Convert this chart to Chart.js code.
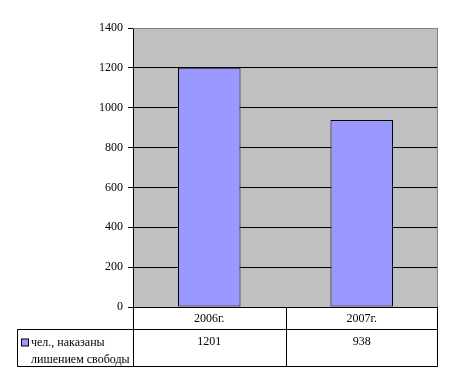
<!DOCTYPE html>
<html>
<head>
<meta charset="utf-8">
<script src="https://cdn.jsdelivr.net/npm/chart.js@4/dist/chart.umd.min.js"></script>
<style>
  html, body { margin: 0; padding: 0; background: #fff; }
  canvas { display: block; }
</style>
</head>
<body>
<canvas id="chart" width="454" height="383"></canvas>
<script>
// data
const categories = ['2006г.', '2007г.'];
const values = [1201, 938];
const seriesName = ['чел., наказаны', 'лишением свободы'];
const yTicks = [0, 200, 400, 600, 800, 1000, 1200, 1400];

const barColor = '#9999ff';
const serif = '"Liberation Serif", "Times New Roman", serif';

// gray plot background + gray top/right frame
const plotArea = {
  id: 'plotArea',
  beforeDraw(chart) {
    const { ctx, chartArea: a } = chart;
    ctx.save();
    ctx.fillStyle = '#c0c0c0';
    ctx.fillRect(a.left, a.top, a.right - a.left, a.bottom - a.top);
    ctx.restore();
  },
  afterDatasetsDraw(chart) {
    const { ctx, chartArea: a } = chart;
    ctx.save();
    ctx.strokeStyle = '#808080';
    ctx.lineWidth = 1;
    ctx.beginPath();
    ctx.moveTo(a.left, a.top + 0.5);
    ctx.lineTo(a.right - 0.5, a.top + 0.5);
    ctx.lineTo(a.right - 0.5, a.bottom);
    ctx.stroke();
    ctx.restore();
  }
};

// data table under the plot
const dataTable = {
  id: 'dataTable',
  afterDraw(chart) {
    const { ctx, chartArea: a } = chart;
    const x = chart.scales.x;
    const colW = (a.right - a.left) / categories.length;
    const top = Math.round(a.bottom) + 0.5;
    const row1 = top + 22;
    const row2 = top + 59;
    const left = 17.5;
    const right = Math.round(a.right) - 0.5;

    ctx.save();
    ctx.strokeStyle = '#000';
    ctx.lineWidth = 1;
    ctx.beginPath();
    // horizontal lines
    ctx.moveTo(a.left, top); ctx.lineTo(right, top);
    ctx.moveTo(left, row1); ctx.lineTo(right, row1);
    ctx.moveTo(left, row2); ctx.lineTo(right, row2);
    // verticals
    ctx.moveTo(left, row1); ctx.lineTo(left, row2);
    for (let i = 0; i <= categories.length; i++) {
      const vx = Math.round(a.left + i * colW) + (i === categories.length ? -0.5 : 0.5);
      ctx.moveTo(vx, top); ctx.lineTo(vx, row2);
    }
    ctx.stroke();

    ctx.fillStyle = '#000';
    ctx.font = '12px ' + serif;
    ctx.textAlign = 'center';
    ctx.textBaseline = 'middle';
    categories.forEach((c, i) => {
      const cx = x.getPixelForValue(i);
      ctx.fillText(c, cx, top + 11);
      ctx.fillText(String(values[i]), cx, row1 + 12);
    });

    // legend key
    ctx.fillStyle = barColor;
    ctx.fillRect(21.5, row1 + 9.5, 7, 7);
    ctx.strokeRect(21.5, row1 + 9.5, 7, 7);
    ctx.fillStyle = '#000';
    ctx.textAlign = 'left';
    ctx.fillText(seriesName[0], 31, row1 + 13);
    ctx.fillText(seriesName[1], 31, row1 + 30);
    ctx.restore();
  }
};

new Chart(document.getElementById('chart'), {
  type: 'bar',
  data: {
    labels: categories,
    datasets: [{
      label: seriesName.join(' '),
      data: values,
      backgroundColor: barColor,
      borderColor: '#000',
      borderWidth: 1,
      borderSkipped: false,
      categoryPercentage: 1,
      barPercentage: 0.41
    }]
  },
  options: {
    responsive: false,
    animation: false,
    layout: { padding: { top: 28, right: 16, bottom: 76, left: 0 } },
    plugins: { legend: { display: false }, tooltip: { enabled: false } },
    scales: {
      x: { display: false },
      y: {
        min: 0,
        max: 1400,
        afterBuildTicks: (s) => { s.ticks = yTicks.map(v => ({ value: v })); },
        afterFit: (s) => { s.width = 133; },
        border: { display: true, color: '#000', width: 1 },
        grid: {
          color: (c) => (c.tick && c.tick.value === 1400 ? '#808080' : '#000'),
          tickColor: '#000',
          tickLength: 5,
          lineWidth: 1
        },
        ticks: {
          color: '#000',
          padding: 5,
          font: { family: serif, size: 12 },
          callback: (v) => String(v)
        }
      }
    }
  },
  plugins: [plotArea, dataTable]
});
</script>
</body>
</html>
